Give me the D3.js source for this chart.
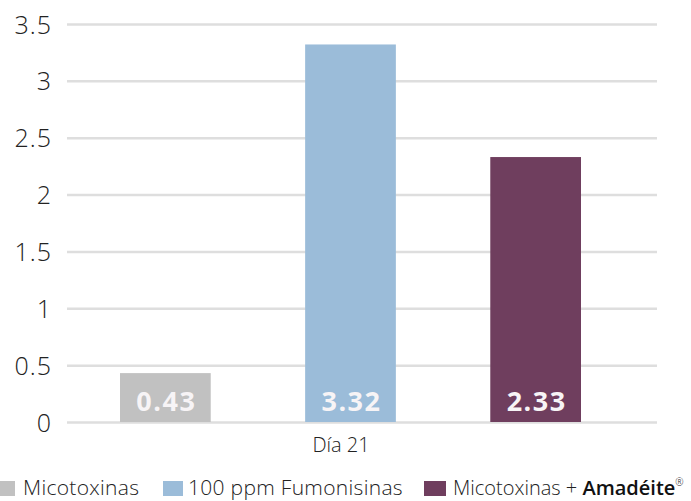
<!DOCTYPE html>
<html><head><meta charset="utf-8">
<script src="https://cdn.jsdelivr.net/npm/d3@7"></script>
<style>
html,body{margin:0;padding:0;background:#fff;}
svg{display:block;font-family:"Open Sans",sans-serif;}
</style></head>
<body><svg id="c" width="691" height="501"></svg>
<script>
const categories = ["Día 21"];
const seriesNames = ["Micotoxinas", "100 ppm Fumonisinas", "Micotoxinas + Amadéite"];
const seriesValues = [0.43, 3.32, 2.33];
const valueLabels = ["0.43", "3.32", "2.33"];
const yTicks = [0, 0.5, 1, 1.5, 2, 2.5, 3, 3.5];
const colors = ["#c1c1c1", "#9bbcd9", "#6f3e5e"];

const svg = d3.select("#c");
const plot = {left: 67, right: 657, top: 24, bottom: 422};

const y = d3.scaleLinear().domain([0, 3.5]).range([plot.bottom, plot.top]);
const x0 = d3.scaleBand().domain(categories).range([120, 581]).paddingInner(0).paddingOuter(0);
const x1 = d3.scaleBand().domain(seriesNames).range([0, x0.bandwidth()]).paddingInner(0.51).paddingOuter(0);

// grid
const grid = d3.axisLeft(y).tickValues(yTicks).tickSize(-(plot.right - plot.left)).tickFormat("");
svg.append("g").attr("transform", `translate(${plot.left},0)`).call(grid)
  .call(g => g.select(".domain").remove())
  .call(g => g.selectAll("line").attr("stroke", "#dedede").attr("stroke-width", 2.5));

// y labels
const yAxis = d3.axisLeft(y).tickValues(yTicks).tickSize(0).tickPadding(15).tickFormat(d => String(d));
svg.append("g").attr("transform", `translate(${plot.left},0)`).call(yAxis)
  .call(g => g.select(".domain").remove())
  .call(g => g.selectAll("text").attr("font-size", 25).attr("font-weight", 300).attr("fill", "#222")
     .attr("letter-spacing", 1).attr("font-family", "'Open Sans',sans-serif").attr("dy", "0.36em"));

// bars
const grp = svg.append("g").selectAll("g").data(categories).join("g")
  .attr("transform", d => `translate(${x0(d)},0)`);
grp.selectAll("rect").data(seriesValues.map((v, i) => ({v, i, name: seriesNames[i]})))
  .join("rect")
  .attr("x", d => x1(d.name)).attr("width", x1.bandwidth())
  .attr("y", d => y(d.v)).attr("height", d => y(0) - y(d.v))
  .attr("fill", d => colors[d.i]);
grp.selectAll("text.val").data(seriesValues.map((v, i) => ({v, i, name: seriesNames[i]})))
  .join("text").attr("class", "val")
  .attr("x", d => x1(d.name) + x1.bandwidth() / 2 + 1)
  .attr("y", y(0) - 11)
  .attr("text-anchor", "middle").attr("font-size", 27).attr("font-weight", 700)
  .attr("fill", "#f7f4f6").attr("letter-spacing", 1.5)
  .text(d => valueLabels[d.i]);

// x axis label
const xAxis = d3.axisBottom(d3.scaleBand().domain(categories).range([plot.left - 20, plot.right - 22])).tickSize(0).tickPadding(16);
svg.append("g").attr("transform", `translate(0,${plot.bottom})`).call(xAxis)
  .call(g => g.select(".domain").remove())
  .call(g => g.selectAll("text").attr("font-size", 20).attr("font-weight", 300).attr("fill", "#222").attr("font-family", "'Open Sans',sans-serif"));

// legend
const legendX = [0, 163, 424];
const leg = svg.append("g").selectAll("g").data(seriesNames).join("g")
  .attr("transform", (d, i) => `translate(${legendX[i]},0)`);
leg.append("rect").attr("x", (d, i) => i === 0 ? -5 : 0).attr("y", 481).attr("width", (d, i) => i === 2 ? 22 : 20).attr("height", 15)
  .attr("fill", (d, i) => colors[i]);
leg.append("text").attr("x", (d, i) => i === 0 ? 23 : (i === 1 ? 25 : 29))
  .attr("y", 495).attr("font-size", (d, i) => i === 2 ? 20 : 21).attr("font-weight", 300).attr("fill", "#222")
  .attr("letter-spacing", (d, i) => i === 2 ? 0 : 0.3)
  .each(function(d, i) {
    const t = d3.select(this);
    if (i === 2) {
      t.append("tspan").text("Micotoxinas + ");
      t.append("tspan").attr("font-weight", 600).attr("fill", "#111").text("Amadéite");
      t.append("tspan").attr("font-size", 10).attr("dy", -9).text("®");
    } else t.text(d);
  });
</script></body></html>
